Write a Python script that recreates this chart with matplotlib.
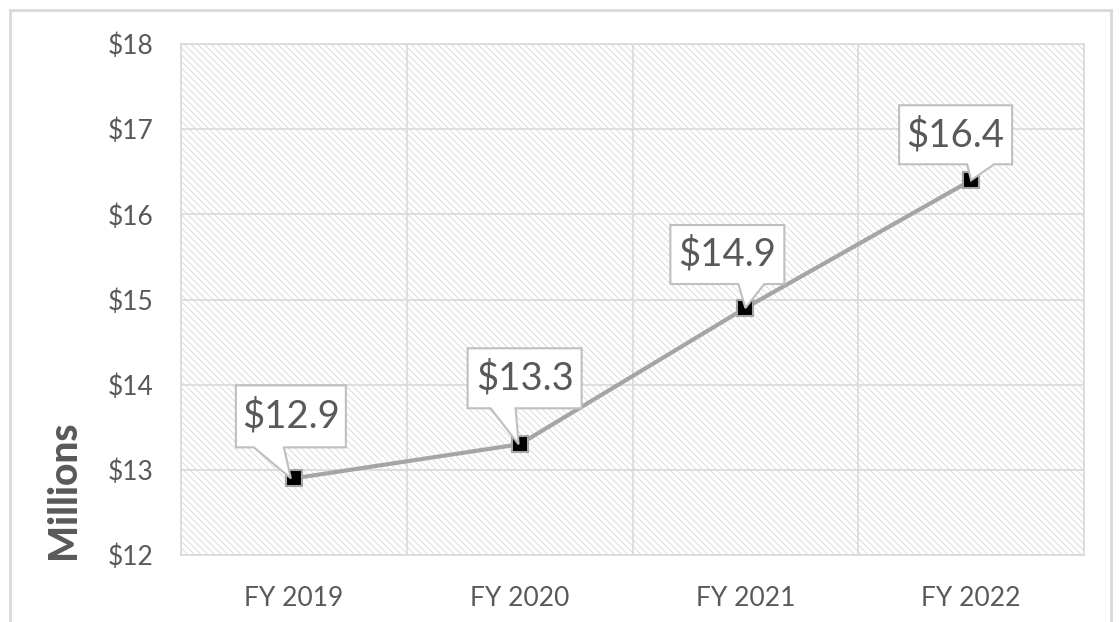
import matplotlib
matplotlib.use("Agg")
import matplotlib.pyplot as plt
from matplotlib.patches import Rectangle, Polygon
from matplotlib.lines import Line2D
import matplotlib.transforms as mtransforms

categories = ["FY 2019", "FY 2020", "FY 2021", "FY 2022"]
values = [12.9, 13.3, 14.9, 16.4]
labels = ["$12.9", "$13.3", "$14.9", "$16.4"]
yticks = [12, 13, 14, 15, 16, 17, 18]
ytick_labels = ["$12", "$13", "$14", "$15", "$16", "$17", "$18"]

# callout geometry in pixels relative to the point: (L, R, B, T, p1, p2, tipx, tipy)
callouts = [
    (-58, 52, 31, 93, -40, -10, -3, 0),
    (-52, 62, 36, 96, -29, -4, -1, 0),
    (-75, 39, 24, 83, -7, 19, 0, 0),
    (-72, 41, 16, 75, -4, 23, 0, 0),
]

plt.rcParams['font.family'] = ['Lato', 'DejaVu Sans']
plt.rcParams['hatch.linewidth'] = 0.6
TXT = '#595959'
GRID = '#D9D9D9'

fig = plt.figure(figsize=(11.19, 6.22), dpi=100)
ax = fig.add_axes([181/1119, 67/622, (1084-181)/1119, (555-44)/622])

x = list(range(len(categories)))
ax.set_xlim(-0.5, len(categories) - 0.5)
ax.set_ylim(12, 18)

bg = Rectangle((0, 0), 1, 1, transform=ax.transAxes, facecolor='white',
               edgecolor='#D6D6D6', hatch='\\\\\\\\\\', linewidth=0, zorder=0)
ax.add_patch(bg)

ax.set_yticks(yticks)
ax.set_yticklabels(ytick_labels)
ax.set_xticks(x)
ax.set_xticklabels(categories)
ax.set_xticks([-0.5, 0.5, 1.5, 2.5, 3.5], minor=True)
ax.tick_params(axis='both', which='both', length=0, colors=TXT, labelsize=19)
ax.tick_params(axis='y', pad=20)
ax.tick_params(axis='x', pad=22)
ax.grid(axis='y', which='major', color=GRID, linewidth=1.2)
ax.grid(axis='x', which='minor', color=GRID, linewidth=1.2)
ax.set_axisbelow(True)
for s in ax.spines.values():
    s.set_color(GRID)
    s.set_linewidth(1.2)

ax.plot(x, values, color='#A5A5A5', linewidth=3, zorder=3,
        marker='s', markersize=11, markerfacecolor='black',
        markeredgecolor='#A5A5A5', markeredgewidth=1.5)

for xi, v, lab, c in zip(x, values, labels, callouts):
    L, R, B, T, p1, p2, tx, ty = c
    trans = fig.dpi_scale_trans + mtransforms.ScaledTranslation(xi, v, ax.transData)
    s = 1 / fig.dpi
    verts = [(L*s, B*s), (p1*s, B*s), (tx*s, ty*s), (p2*s, B*s), (R*s, B*s),
             (R*s, T*s), (L*s, T*s)]
    poly = Polygon(verts, closed=True, transform=trans, facecolor='white',
                   edgecolor='#BFBFBF', linewidth=1.5, zorder=4, clip_on=False)
    ax.add_patch(poly)
    ax.annotate(lab, xy=(xi, v), xytext=((L+R)/2, (B+T)/2), textcoords='offset pixels',
                ha='center', va='center', fontsize=27.5, color=TXT, zorder=5)

fig.text(64/1119, 1 - 490/622, "Millions", rotation=90, ha='center', va='center',
         fontsize=28, fontweight='black', color=TXT)

# chart border
bc = '#D9D9D9'
fig.add_artist(Line2D([10/1119, 10/1119], [0, 1 - 10/622], color=bc, linewidth=2))
fig.add_artist(Line2D([1111/1119, 1111/1119], [0, 1 - 10/622], color=bc, linewidth=2))
fig.add_artist(Line2D([10/1119, 1111/1119], [1 - 10/622, 1 - 10/622], color=bc, linewidth=2))

fig.savefig("out.png", dpi=100)
